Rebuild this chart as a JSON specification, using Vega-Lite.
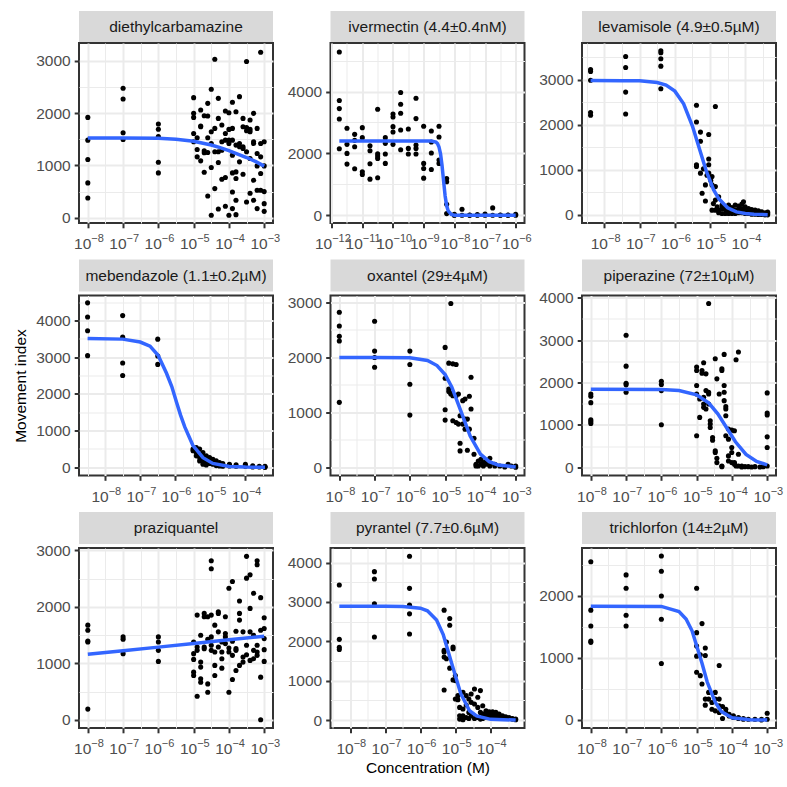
{
"$schema": "https://vega.github.io/schema/vega-lite/v6.json",
"padding": {"left": 12, "top": 11, "right": 5, "bottom": 5},
"background": "white",
"config": {
  "font": "Liberation Sans",
  "view": {"stroke": "#333333", "strokeWidth": 2},
  "axis": {"domain": false, "labelFontSize": 15.5, "labelColor": "#4D4D4D", "tickColor": "#333333", "tickWidth": 2, "tickSize": 4.8, "gridColor": "#EBEBEB", "titleFontSize": 15.5, "titleFontWeight": "normal", "titleColor": "#000000", "labelPadding": 4, "labelFlush": false, "labelOverlap": false, "labelBound": false},
  "text": {"fontSize": 15.5, "color": "#1A1A1A"},
  "circle": {"size": 26}
},
"spacing": 5.5,
"datasets": {
"dec": [{"c":1e-8,"m":1917},{"c":1e-8,"m":1482},{"c":1e-8,"m":1112},{"c":1e-8,"m":665},{"c":1e-8,"m":377},{"c":1e-7,"m":2473},{"c":1e-7,"m":2268},{"c":1e-7,"m":1623},{"c":1e-7,"m":1495},{"c":1e-6,"m":1790},{"c":1e-6,"m":1690},{"c":1e-6,"m":1550},{"c":1e-6,"m":1060},{"c":1e-6,"m":856},{"c":1e-5,"m":2294},{"c":1e-5,"m":1994},{"c":1e-5,"m":1917},{"c":1e-5,"m":1610},{"c":1e-5,"m":1451},{"c":1.259e-5,"m":1527},{"c":1.259e-5,"m":1304},{"c":1.259e-5,"m":1163},{"c":1.585e-5,"m":2058},{"c":1.585e-5,"m":1751},{"c":1.585e-5,"m":1738},{"c":1.585e-5,"m":1086},{"c":1.995e-5,"m":1949},{"c":1.995e-5,"m":1278},{"c":1.995e-5,"m":1240},{"c":1.995e-5,"m":869},{"c":2.512e-5,"m":2185},{"c":2.512e-5,"m":1943},{"c":2.512e-5,"m":1527},{"c":2.512e-5,"m":1246},{"c":2.512e-5,"m":415},{"c":3.162e-5,"m":2454},{"c":3.162e-5,"m":1642},{"c":3.162e-5,"m":1419},{"c":3.162e-5,"m":959},{"c":3.162e-5,"m":45},{"c":3.981e-5,"m":3029},{"c":3.981e-5,"m":1706},{"c":3.981e-5,"m":1259},{"c":3.981e-5,"m":556},{"c":5.012e-5,"m":2281},{"c":5.012e-5,"m":1898},{"c":5.012e-5,"m":1259},{"c":5.012e-5,"m":1054},{"c":5.012e-5,"m":166},{"c":6.31e-5,"m":1770},{"c":6.31e-5,"m":1451},{"c":6.31e-5,"m":1291},{"c":6.31e-5,"m":735},{"c":7.943e-5,"m":2038},{"c":7.943e-5,"m":1610},{"c":7.943e-5,"m":1482},{"c":7.943e-5,"m":767},{"c":7.943e-5,"m":217},{"c":1e-4,"m":2006},{"c":1e-4,"m":1687},{"c":1e-4,"m":1482},{"c":1e-4,"m":1419},{"c":1e-4,"m":45},{"c":1.259e-4,"m":2205},{"c":1.259e-4,"m":1706},{"c":1.259e-4,"m":1482},{"c":1.259e-4,"m":1195},{"c":1.259e-4,"m":856},{"c":1.259e-4,"m":492},{"c":1.259e-4,"m":173},{"c":1.585e-4,"m":2026},{"c":1.585e-4,"m":1387},{"c":1.585e-4,"m":875},{"c":1.585e-4,"m":748},{"c":1.585e-4,"m":332},{"c":1.585e-4,"m":58},{"c":1.995e-4,"m":2313},{"c":1.995e-4,"m":1419},{"c":1.995e-4,"m":1355},{"c":1.995e-4,"m":1067},{"c":2.512e-4,"m":1898},{"c":2.512e-4,"m":1738},{"c":2.512e-4,"m":1355},{"c":2.512e-4,"m":1323},{"c":2.512e-4,"m":831},{"c":3.162e-4,"m":2984},{"c":3.162e-4,"m":1725},{"c":3.162e-4,"m":1661},{"c":3.162e-4,"m":1259},{"c":3.162e-4,"m":300},{"c":3.981e-4,"m":1866},{"c":3.981e-4,"m":1687},{"c":3.981e-4,"m":1642},{"c":3.981e-4,"m":1131},{"c":3.981e-4,"m":466},{"c":5.012e-4,"m":1994},{"c":5.012e-4,"m":1451},{"c":5.012e-4,"m":1419},{"c":5.012e-4,"m":716},{"c":5.012e-4,"m":332},{"c":6.31e-4,"m":1706},{"c":6.31e-4,"m":1227},{"c":6.31e-4,"m":990},{"c":6.31e-4,"m":524},{"c":6.31e-4,"m":173},{"c":7.943e-4,"m":3163},{"c":7.943e-4,"m":1419},{"c":7.943e-4,"m":1163},{"c":7.943e-4,"m":843},{"c":7.943e-4,"m":524},{"c":1e-3,"m":1451},{"c":1e-3,"m":990},{"c":1e-3,"m":498},{"c":1e-3,"m":268},{"c":1e-3,"m":121}],
"dec_fit": [{"c":1e-8,"m":1525},{"c":1e-7,"m":1524},{"c":1e-6,"m":1518},{"c":3.162e-6,"m":1500},{"c":1e-5,"m":1462},{"c":3.162e-5,"m":1390},{"c":5.623e-5,"m":1340},{"c":1e-4,"m":1280},{"c":1.778e-4,"m":1215},{"c":3.162e-4,"m":1150},{"c":5.623e-4,"m":1075},{"c":1e-3,"m":985}],
"ivm": [{"c":1.778e-12,"m":5275},{"c":1.778e-12,"m":3708},{"c":1.778e-12,"m":3448},{"c":1.778e-12,"m":3113},{"c":1.778e-12,"m":2151},{"c":3.162e-12,"m":2811},{"c":3.162e-12,"m":2292},{"c":3.162e-12,"m":2000},{"c":3.162e-12,"m":1654},{"c":5.623e-12,"m":2616},{"c":5.623e-12,"m":2422},{"c":5.623e-12,"m":2216},{"c":5.623e-12,"m":1503},{"c":1e-11,"m":2832},{"c":1e-11,"m":2508},{"c":1e-11,"m":1405},{"c":1e-11,"m":1319},{"c":1.778e-11,"m":2249},{"c":1.778e-11,"m":2086},{"c":1.778e-11,"m":1665},{"c":1.778e-11,"m":1168},{"c":3.162e-11,"m":3427},{"c":3.162e-11,"m":1989},{"c":3.162e-11,"m":1913},{"c":3.162e-11,"m":1838},{"c":3.162e-11,"m":1211},{"c":5.623e-11,"m":2508},{"c":5.623e-11,"m":2324},{"c":5.623e-11,"m":1978},{"c":5.623e-11,"m":1676},{"c":1e-10,"m":3275},{"c":1e-10,"m":3178},{"c":1e-10,"m":2865},{"c":1e-10,"m":2692},{"c":1e-10,"m":2292},{"c":1.778e-10,"m":3967},{"c":1.778e-10,"m":3589},{"c":1.778e-10,"m":3297},{"c":1.778e-10,"m":2757},{"c":1.778e-10,"m":2119},{"c":3.162e-10,"m":2789},{"c":3.162e-10,"m":2162},{"c":3.162e-10,"m":1978},{"c":5.623e-10,"m":3784},{"c":5.623e-10,"m":3124},{"c":5.623e-10,"m":2270},{"c":5.623e-10,"m":2162},{"c":5.623e-10,"m":1978},{"c":1e-9,"m":2876},{"c":1e-9,"m":1676},{"c":1e-9,"m":1513},{"c":1e-9,"m":1200},{"c":1.778e-9,"m":2724},{"c":1.778e-9,"m":2367},{"c":1.778e-9,"m":2011},{"c":1.778e-9,"m":1481},{"c":3.162e-9,"m":2876},{"c":3.162e-9,"m":2530},{"c":3.162e-9,"m":1784},{"c":3.162e-9,"m":1676},{"c":5.623e-9,"m":1189},{"c":5.623e-9,"m":1081},{"c":5.623e-9,"m":357},{"c":5.623e-9,"m":54},{"c":1e-8,"m":0},{"c":1e-8,"m":32},{"c":1e-8,"m":10},{"c":1.778e-8,"m":195},{"c":1.778e-8,"m":0},{"c":3.162e-8,"m":0},{"c":3.162e-8,"m":5},{"c":5.623e-8,"m":20},{"c":5.623e-8,"m":0},{"c":1e-7,"m":40},{"c":1e-7,"m":0},{"c":1.778e-7,"m":238},{"c":1.778e-7,"m":0},{"c":3.162e-7,"m":0},{"c":3.162e-7,"m":10},{"c":5.623e-7,"m":0},{"c":5.623e-7,"m":5},{"c":1e-6,"m":0},{"c":1e-6,"m":30}],
"ivm_fit": [{"c":1.778e-12,"m":2400},{"c":1e-10,"m":2400},{"c":1e-9,"m":2399},{"c":1.778e-9,"m":2397},{"c":2.512e-9,"m":2364},{"c":2.818e-9,"m":2317},{"c":3.162e-9,"m":2208},{"c":3.548e-9,"m":1988},{"c":3.981e-9,"m":1603},{"c":4.365e-9,"m":1200},{"c":5.012e-9,"m":622},{"c":5.623e-9,"m":305},{"c":6.31e-9,"m":138},{"c":7.943e-9,"m":25},{"c":1e-8,"m":4},{"c":1.778e-8,"m":0},{"c":1e-6,"m":0}],
"lev": [{"c":4.03e-9,"m":3224},{"c":4.03e-9,"m":3179},{"c":4.03e-9,"m":2985},{"c":4.03e-9,"m":2269},{"c":4.03e-9,"m":2209},{"c":4e-8,"m":3515},{"c":4e-8,"m":3269},{"c":4e-8,"m":2724},{"c":4e-8,"m":2239},{"c":4e-7,"m":3642},{"c":4e-7,"m":3597},{"c":4e-7,"m":3463},{"c":4e-7,"m":3299},{"c":4e-7,"m":2799},{"c":4.12e-6,"m":2433},{"c":4.12e-6,"m":2060},{"c":4.12e-6,"m":1112},{"c":4.12e-6,"m":1075},{"c":5.35e-6,"m":1836},{"c":5.35e-6,"m":1634},{"c":5.35e-6,"m":925},{"c":5.96e-6,"m":478},{"c":6.5e-6,"m":1020},{"c":7.4e-6,"m":306},{"c":7.4e-6,"m":664},{"c":8.2e-6,"m":880},{"c":9.18e-6,"m":1784},{"c":9.18e-6,"m":1239},{"c":9.18e-6,"m":1112},{"c":9.18e-6,"m":925},{"c":1.05e-5,"m":760},{"c":1.14e-5,"m":851},{"c":1.14e-5,"m":664},{"c":1.14e-5,"m":104},{"c":1.25e-5,"m":250},{"c":1.42e-5,"m":2403},{"c":1.42e-5,"m":627},{"c":1.42e-5,"m":328},{"c":1.42e-5,"m":104},{"c":1.6e-5,"m":180},{"c":1.76e-5,"m":403},{"c":1.76e-5,"m":104},{"c":1.76e-5,"m":45},{"c":2.19e-5,"m":216},{"c":2.19e-5,"m":142},{"c":2.19e-5,"m":30},{"c":2.72e-5,"m":179},{"c":2.72e-5,"m":119},{"c":2.72e-5,"m":30},{"c":3.37e-5,"m":216},{"c":3.37e-5,"m":104},{"c":3.37e-5,"m":30},{"c":4.19e-5,"m":164},{"c":4.19e-5,"m":142},{"c":4.19e-5,"m":30},{"c":5.2e-5,"m":216},{"c":5.2e-5,"m":104},{"c":5.2e-5,"m":30},{"c":6.46e-5,"m":194},{"c":6.46e-5,"m":119},{"c":6.46e-5,"m":45},{"c":8.02e-5,"m":239},{"c":8.02e-5,"m":142},{"c":8.02e-5,"m":45},{"c":8.93e-5,"m":291},{"c":9.96e-5,"m":179},{"c":9.96e-5,"m":90},{"c":9.96e-5,"m":30},{"c":1.24e-4,"m":142},{"c":1.24e-4,"m":67},{"c":1.24e-4,"m":30},{"c":1.53e-4,"m":119},{"c":1.53e-4,"m":45},{"c":1.53e-4,"m":15},{"c":1.91e-4,"m":104},{"c":1.91e-4,"m":45},{"c":1.91e-4,"m":15},{"c":2.37e-4,"m":90},{"c":2.37e-4,"m":30},{"c":2.37e-4,"m":7},{"c":2.94e-4,"m":67},{"c":2.94e-4,"m":30},{"c":2.94e-4,"m":7},{"c":3.66e-4,"m":45},{"c":3.66e-4,"m":22},{"c":3.66e-4,"m":0},{"c":4.35e-4,"m":60},{"c":4.35e-4,"m":30},{"c":4.35e-4,"m":0}],
"lev_fit": [{"c":4.03e-9,"m":2980},{"c":3.162e-8,"m":2976},{"c":1e-7,"m":2973},{"c":3.162e-7,"m":2937},{"c":5.623e-7,"m":2880},{"c":1e-6,"m":2745},{"c":1.778e-6,"m":2465},{"c":3.162e-6,"m":1970},{"c":4.9e-6,"m":1490},{"c":7.943e-6,"m":957},{"c":1.259e-5,"m":559},{"c":1.778e-5,"m":355},{"c":3.162e-5,"m":157},{"c":5.623e-5,"m":66},{"c":1e-4,"m":28},{"c":1.778e-4,"m":12},{"c":4.35e-4,"m":3}],
"meb": [{"c":3.162e-9,"m":4478},{"c":3.162e-9,"m":4094},{"c":3.162e-9,"m":3718},{"c":3.162e-9,"m":3040},{"c":3.162e-8,"m":4130},{"c":3.162e-8,"m":3544},{"c":3.162e-8,"m":2839},{"c":3.162e-8,"m":2500},{"c":3.162e-7,"m":3489},{"c":3.162e-7,"m":3031},{"c":3.162e-7,"m":2802},{"c":3.2e-6,"m":495},{"c":3.2e-6,"m":449},{"c":3.97e-6,"m":540},{"c":3.97e-6,"m":403},{"c":3.97e-6,"m":311},{"c":4.94e-6,"m":495},{"c":4.94e-6,"m":357},{"c":4.94e-6,"m":266},{"c":4.94e-6,"m":174},{"c":6.14e-6,"m":403},{"c":6.14e-6,"m":311},{"c":6.14e-6,"m":174},{"c":6.14e-6,"m":82},{"c":7.63e-6,"m":311},{"c":7.63e-6,"m":220},{"c":7.63e-6,"m":128},{"c":7.63e-6,"m":64},{"c":9.48e-6,"m":266},{"c":9.48e-6,"m":174},{"c":9.48e-6,"m":101},{"c":1.18e-5,"m":220},{"c":1.18e-5,"m":147},{"c":1.18e-5,"m":82},{"c":1.47e-5,"m":174},{"c":1.47e-5,"m":101},{"c":1.47e-5,"m":46},{"c":1.82e-5,"m":128},{"c":1.82e-5,"m":73},{"c":1.82e-5,"m":37},{"c":2.26e-5,"m":101},{"c":2.26e-5,"m":55},{"c":2.26e-5,"m":27},{"c":3.5e-5,"m":82},{"c":3.5e-5,"m":37},{"c":5.41e-5,"m":64},{"c":5.41e-5,"m":27},{"c":9.95e-5,"m":82},{"c":9.95e-5,"m":27},{"c":1.61e-4,"m":37},{"c":1.61e-4,"m":9},{"c":2.48e-4,"m":27},{"c":2.48e-4,"m":9},{"c":3.6e-4,"m":27},{"c":3.6e-4,"m":0},{"c":3.6e-4,"m":5}],
"meb_fit": [{"c":3.162e-9,"m":3508},{"c":3.162e-8,"m":3490},{"c":1e-7,"m":3410},{"c":1.905e-7,"m":3300},{"c":3.236e-7,"m":3050},{"c":5.623e-7,"m":2560},{"c":7.943e-7,"m":2200},{"c":1.096e-6,"m":1755},{"c":1.413e-6,"m":1420},{"c":1.862e-6,"m":1100},{"c":3.162e-6,"m":600},{"c":6.166e-6,"m":260},{"c":1.175e-5,"m":105},{"c":3.467e-5,"m":22},{"c":1e-4,"m":5},{"c":3.6e-4,"m":1}],
"oxa": [{"c":1e-8,"m":2823},{"c":1e-8,"m":2573},{"c":1e-8,"m":2384},{"c":1e-8,"m":2299},{"c":1e-8,"m":1183},{"c":1e-7,"m":2659},{"c":1e-7,"m":2116},{"c":1e-7,"m":2000},{"c":1e-7,"m":1823},{"c":1e-6,"m":2116},{"c":1e-6,"m":1872},{"c":1e-6,"m":1512},{"c":1e-6,"m":951},{"c":1e-5,"m":2183},{"c":1e-5,"m":1622},{"c":1e-5,"m":1049},{"c":1e-5,"m":860},{"c":1.27e-5,"m":1896},{"c":1.27e-5,"m":1427},{"c":1.27e-5,"m":1378},{"c":1.45e-5,"m":2982},{"c":1.45e-5,"m":1354},{"c":1.45e-5,"m":1335},{"c":1.65e-5,"m":1884},{"c":1.65e-5,"m":1305},{"c":1.65e-5,"m":848},{"c":2.05e-5,"m":1872},{"c":2.05e-5,"m":1305},{"c":2.05e-5,"m":817},{"c":2.38e-5,"m":787},{"c":2.38e-5,"m":1335},{"c":2.65e-5,"m":939},{"c":2.65e-5,"m":439},{"c":2.65e-5,"m":299},{"c":3.15e-5,"m":1214},{"c":3.15e-5,"m":787},{"c":3.67e-5,"m":1244},{"c":3.67e-5,"m":695},{"c":3.67e-5,"m":878},{"c":4.27e-5,"m":878},{"c":4.27e-5,"m":311},{"c":4.86e-5,"m":1293},{"c":4.86e-5,"m":695},{"c":5.42e-5,"m":1640},{"c":5.42e-5,"m":1061},{"c":6.58e-5,"m":530},{"c":6.58e-5,"m":238},{"c":7.48e-5,"m":55},{"c":7.48e-5,"m":24},{"c":8.71e-5,"m":24},{"c":8.71e-5,"m":116},{"c":1.04e-4,"m":146},{"c":1.04e-4,"m":55},{"c":1.21e-4,"m":24},{"c":1.21e-4,"m":85},{"c":1.49e-4,"m":55},{"c":1.49e-4,"m":116},{"c":1.85e-4,"m":165},{"c":1.85e-4,"m":55},{"c":1.85e-4,"m":24},{"c":2.56e-4,"m":55},{"c":2.56e-4,"m":24},{"c":3.55e-4,"m":24},{"c":4.9e-4,"m":6},{"c":6.08e-4,"m":55},{"c":7.55e-4,"m":24},{"c":1e-3,"m":24},{"c":1e-3,"m":0}],
"oxa_fit": [{"c":1e-8,"m":2000},{"c":1e-7,"m":2000},{"c":1e-6,"m":1995},{"c":3.162e-6,"m":1944},{"c":5.888e-6,"m":1853},{"c":1e-5,"m":1689},{"c":1.549e-5,"m":1460},{"c":2.884e-5,"m":1000},{"c":5.129e-5,"m":570},{"c":1e-4,"m":241},{"c":1.778e-4,"m":103},{"c":3.162e-4,"m":43},{"c":1e-3,"m":7}],
"pip": [{"c":1e-8,"m":1731},{"c":1e-8,"m":1676},{"c":1e-8,"m":1526},{"c":1e-8,"m":1123},{"c":1e-8,"m":1083},{"c":1e-8,"m":1036},{"c":1e-7,"m":3115},{"c":1e-7,"m":2387},{"c":1e-7,"m":1984},{"c":1e-7,"m":1945},{"c":1e-7,"m":1771},{"c":1e-6,"m":2032},{"c":1e-6,"m":1953},{"c":1e-6,"m":1810},{"c":1e-6,"m":1004},{"c":1e-5,"m":2364},{"c":1e-5,"m":2285},{"c":1e-5,"m":1929},{"c":1e-5,"m":1731},{"c":1e-5,"m":743},{"c":1.22e-5,"m":1613},{"c":1.22e-5,"m":1178},{"c":1.42e-5,"m":2285},{"c":1.42e-5,"m":2221},{"c":1.58e-5,"m":2466},{"c":1.58e-5,"m":1652},{"c":1.58e-5,"m":1494},{"c":1.58e-5,"m":1415},{"c":1.84e-5,"m":2205},{"c":1.84e-5,"m":1810},{"c":1.84e-5,"m":1375},{"c":2.19e-5,"m":3866},{"c":2.19e-5,"m":1771},{"c":2.19e-5,"m":1731},{"c":2.19e-5,"m":1494},{"c":2.43e-5,"m":1099},{"c":2.43e-5,"m":1020},{"c":2.43e-5,"m":941},{"c":2.83e-5,"m":704},{"c":2.83e-5,"m":640},{"c":3.37e-5,"m":2561},{"c":3.37e-5,"m":387},{"c":3.37e-5,"m":348},{"c":3.75e-5,"m":2087},{"c":3.75e-5,"m":213},{"c":3.75e-5,"m":111},{"c":4.36e-5,"m":1731},{"c":5.19e-5,"m":2324},{"c":5.19e-5,"m":2285},{"c":5.19e-5,"m":32},{"c":5.19e-5,"m":16},{"c":6.03e-5,"m":2664},{"c":6.03e-5,"m":1929},{"c":6.03e-5,"m":1771},{"c":6.03e-5,"m":1573},{"c":6.72e-5,"m":1375},{"c":6.72e-5,"m":1431},{"c":6.72e-5,"m":1217},{"c":6.72e-5,"m":743},{"c":7.98e-5,"m":901},{"c":7.98e-5,"m":664},{"c":7.98e-5,"m":269},{"c":7.98e-5,"m":150},{"c":9.9e-5,"m":877},{"c":9.9e-5,"m":466},{"c":9.9e-5,"m":348},{"c":9.9e-5,"m":111},{"c":1.18e-4,"m":862},{"c":1.18e-4,"m":111},{"c":1.18e-4,"m":71},{"c":1.31e-4,"m":2537},{"c":1.31e-4,"m":32},{"c":1.53e-4,"m":2719},{"c":1.53e-4,"m":308},{"c":1.53e-4,"m":32},{"c":1.9e-4,"m":32},{"c":1.9e-4,"m":8},{"c":2.35e-4,"m":16},{"c":2.92e-4,"m":16},{"c":3.62e-4,"m":8},{"c":4.5e-4,"m":16},{"c":6.22e-4,"m":8},{"c":7.71e-4,"m":16},{"c":1e-3,"m":1755},{"c":1e-3,"m":1281},{"c":1e-3,"m":1233},{"c":1e-3,"m":719},{"c":1e-3,"m":466},{"c":1e-3,"m":32}],
"pip_fit": [{"c":1e-8,"m":1842},{"c":1e-6,"m":1838},{"c":3.162e-6,"m":1810},{"c":1e-5,"m":1710},{"c":2.188e-5,"m":1520},{"c":3.981e-5,"m":1260},{"c":7.244e-5,"m":921},{"c":1.259e-4,"m":603},{"c":2.512e-4,"m":305},{"c":5.012e-4,"m":137},{"c":1e-3,"m":59}],
"prz": [{"c":1e-8,"m":1676},{"c":1e-8,"m":1587},{"c":1e-8,"m":1396},{"c":1e-8,"m":1379},{"c":1e-8,"m":190},{"c":1e-7,"m":1468},{"c":1e-7,"m":1426},{"c":1e-7,"m":1171},{"c":1e-6,"m":1468},{"c":1e-6,"m":1379},{"c":1e-6,"m":1230},{"c":1e-6,"m":1034},{"c":1e-5,"m":1379},{"c":1e-5,"m":1171},{"c":1e-5,"m":1070},{"c":1e-5,"m":844},{"c":1e-5,"m":784},{"c":1.259e-5,"m":1854},{"c":1.259e-5,"m":1289},{"c":1.259e-5,"m":1230},{"c":1.259e-5,"m":416},{"c":1.585e-5,"m":1497},{"c":1.585e-5,"m":1022},{"c":1.585e-5,"m":933},{"c":1.585e-5,"m":725},{"c":1.585e-5,"m":666},{"c":1.995e-5,"m":1884},{"c":1.995e-5,"m":1824},{"c":1.995e-5,"m":1289},{"c":1.995e-5,"m":1260},{"c":2.512e-5,"m":1824},{"c":2.512e-5,"m":1426},{"c":2.512e-5,"m":636},{"c":2.512e-5,"m":487},{"c":3.162e-5,"m":2817},{"c":3.162e-5,"m":2674},{"c":3.162e-5,"m":1854},{"c":3.162e-5,"m":1468},{"c":3.162e-5,"m":1319},{"c":3.162e-5,"m":1230},{"c":3.981e-5,"m":1676},{"c":3.981e-5,"m":1200},{"c":3.981e-5,"m":963},{"c":3.981e-5,"m":784},{"c":5.012e-5,"m":1913},{"c":5.012e-5,"m":1884},{"c":5.012e-5,"m":1557},{"c":5.012e-5,"m":1289},{"c":6.31e-5,"m":1379},{"c":6.31e-5,"m":1200},{"c":6.31e-5,"m":1081},{"c":6.31e-5,"m":915},{"c":7.943e-5,"m":1824},{"c":7.943e-5,"m":1527},{"c":7.943e-5,"m":1468},{"c":7.943e-5,"m":1349},{"c":1e-4,"m":2329},{"c":1e-4,"m":1271},{"c":1e-4,"m":1200},{"c":1e-4,"m":487},{"c":1.259e-4,"m":2448},{"c":1.259e-4,"m":1390},{"c":1.259e-4,"m":1141},{"c":1.259e-4,"m":713},{"c":1.585e-4,"m":1569},{"c":1.585e-4,"m":1260},{"c":1.585e-4,"m":1230},{"c":1.585e-4,"m":873},{"c":1.995e-4,"m":2103},{"c":1.995e-4,"m":1884},{"c":1.995e-4,"m":1765},{"c":1.995e-4,"m":963},{"c":2.512e-4,"m":1557},{"c":2.512e-4,"m":1022},{"c":2.512e-4,"m":1111},{"c":3.162e-4,"m":2894},{"c":3.162e-4,"m":2508},{"c":3.162e-4,"m":1319},{"c":3.162e-4,"m":1152},{"c":3.981e-4,"m":2567},{"c":3.981e-4,"m":1973},{"c":3.981e-4,"m":1557},{"c":3.981e-4,"m":1052},{"c":5.012e-4,"m":2240},{"c":5.012e-4,"m":1497},{"c":5.012e-4,"m":1230},{"c":5.012e-4,"m":1081},{"c":6.31e-4,"m":2817},{"c":6.31e-4,"m":2745},{"c":6.31e-4,"m":1319},{"c":6.31e-4,"m":1200},{"c":6.31e-4,"m":1141},{"c":7.943e-4,"m":2163},{"c":7.943e-4,"m":1587},{"c":7.943e-4,"m":755},{"c":7.943e-4,"m":0},{"c":1e-3,"m":1806},{"c":1e-3,"m":1616},{"c":1e-3,"m":1438},{"c":1e-3,"m":1242},{"c":1e-3,"m":1034}],
"prz_fit": [{"c":1e-8,"m":1159},{"c":1e-7,"m":1223},{"c":1e-6,"m":1287},{"c":1e-5,"m":1352},{"c":1e-4,"m":1416},{"c":1e-3,"m":1480}],
"pyr": [{"c":4.9e-9,"m":3430},{"c":4.9e-9,"m":2051},{"c":4.9e-9,"m":1847},{"c":4.9e-9,"m":1796},{"c":4.9e-8,"m":3770},{"c":4.9e-8,"m":3583},{"c":4.9e-8,"m":2953},{"c":4.9e-8,"m":2111},{"c":4.9e-7,"m":4162},{"c":4.9e-7,"m":3345},{"c":4.9e-7,"m":2919},{"c":4.9e-7,"m":2698},{"c":4.9e-7,"m":2187},{"c":4.74e-6,"m":2792},{"c":4.74e-6,"m":1770},{"c":4.74e-6,"m":1728},{"c":4.74e-6,"m":1600},{"c":4.74e-6,"m":766},{"c":5.52e-6,"m":1983},{"c":5.52e-6,"m":1558},{"c":6.85e-6,"m":2579},{"c":6.85e-6,"m":2409},{"c":6.85e-6,"m":1319},{"c":8.51e-6,"m":1855},{"c":8.51e-6,"m":1813},{"c":8.51e-6,"m":1021},{"c":9.89e-6,"m":1132},{"c":9.89e-6,"m":1004},{"c":9.89e-6,"m":536},{"c":1.17e-5,"m":621},{"c":1.17e-5,"m":519},{"c":1.31e-5,"m":323},{"c":1.31e-5,"m":111},{"c":1.31e-5,"m":26},{"c":1.63e-5,"m":706},{"c":1.63e-5,"m":281},{"c":1.63e-5,"m":111},{"c":1.63e-5,"m":9},{"c":2.02e-5,"m":621},{"c":2.02e-5,"m":383},{"c":2.02e-5,"m":68},{"c":2.4e-5,"m":536},{"c":2.4e-5,"m":196},{"c":2.4e-5,"m":43},{"c":2.79e-5,"m":664},{"c":2.79e-5,"m":451},{"c":2.79e-5,"m":111},{"c":3.47e-5,"m":792},{"c":3.47e-5,"m":409},{"c":3.47e-5,"m":43},{"c":4.31e-5,"m":579},{"c":4.31e-5,"m":323},{"c":4.31e-5,"m":68},{"c":5.12e-5,"m":749},{"c":5.12e-5,"m":196},{"c":5.12e-5,"m":26},{"c":5.96e-5,"m":366},{"c":5.96e-5,"m":153},{"c":5.96e-5,"m":43},{"c":7.39e-5,"m":238},{"c":7.39e-5,"m":196},{"c":7.39e-5,"m":153},{"c":7.39e-5,"m":68},{"c":9.17e-5,"m":213},{"c":9.17e-5,"m":179},{"c":9.17e-5,"m":111},{"c":1.14e-4,"m":213},{"c":1.14e-4,"m":153},{"c":1.14e-4,"m":68},{"c":1.41e-4,"m":196},{"c":1.41e-4,"m":111},{"c":1.41e-4,"m":43},{"c":1.75e-4,"m":153},{"c":1.75e-4,"m":94},{"c":2.18e-4,"m":111},{"c":2.18e-4,"m":68},{"c":2.7e-4,"m":85},{"c":2.7e-4,"m":43},{"c":3.36e-4,"m":68},{"c":3.36e-4,"m":43},{"c":4.17e-4,"m":43},{"c":4.17e-4,"m":26},{"c":5.18e-4,"m":26},{"c":5.18e-4,"m":9}],
"pyr_fit": [{"c":4.9e-9,"m":2890},{"c":1e-7,"m":2888},{"c":3.162e-7,"m":2885},{"c":1e-6,"m":2843},{"c":1.585e-6,"m":2774},{"c":2.884e-6,"m":2540},{"c":4.467e-6,"m":2173},{"c":7.762e-6,"m":1445},{"c":1.413e-5,"m":671},{"c":2.512e-5,"m":238},{"c":3.981e-5,"m":107},{"c":1e-4,"m":20},{"c":5.18e-4,"m":1}],
"tri": [{"c":1e-8,"m":2546},{"c":1e-8,"m":1767},{"c":1e-8,"m":1513},{"c":1e-8,"m":1270},{"c":1e-8,"m":1249},{"c":1e-7,"m":2335},{"c":1e-7,"m":2119},{"c":1e-7,"m":1686},{"c":1e-7,"m":1513},{"c":1e-6,"m":2638},{"c":1e-6,"m":2394},{"c":1e-6,"m":1994},{"c":1e-6,"m":1622},{"c":1e-6,"m":908},{"c":1e-5,"m":2119},{"c":1e-5,"m":1405},{"c":1e-5,"m":1189},{"c":1e-5,"m":1027},{"c":1e-5,"m":767},{"c":1.27e-5,"m":1049},{"c":1.27e-5,"m":713},{"c":1.42e-5,"m":1551},{"c":1.42e-5,"m":578},{"c":1.76e-5,"m":1157},{"c":1.76e-5,"m":1038},{"c":1.76e-5,"m":335},{"c":1.76e-5,"m":238},{"c":2.19e-5,"m":443},{"c":2.19e-5,"m":335},{"c":2.71e-5,"m":281},{"c":2.71e-5,"m":173},{"c":3.37e-5,"m":443},{"c":3.37e-5,"m":335},{"c":3.37e-5,"m":146},{"c":4.36e-5,"m":876},{"c":4.36e-5,"m":335},{"c":4.36e-5,"m":227},{"c":4.36e-5,"m":119},{"c":5.42e-5,"m":216},{"c":5.42e-5,"m":22},{"c":6.72e-5,"m":173},{"c":6.72e-5,"m":119},{"c":8.34e-5,"m":92},{"c":8.34e-5,"m":65},{"c":1.1e-4,"m":65},{"c":1.1e-4,"m":38},{"c":1.53e-4,"m":38},{"c":1.53e-4,"m":22},{"c":2.11e-4,"m":22},{"c":2.11e-4,"m":11},{"c":2.92e-4,"m":11},{"c":4.5e-4,"m":11},{"c":6.93e-4,"m":11},{"c":6.93e-4,"m":0},{"c":1e-3,"m":108},{"c":1e-3,"m":11}],
"tri_fit": [{"c":1e-8,"m":1830},{"c":1e-6,"m":1828},{"c":3.162e-6,"m":1746},{"c":5.012e-6,"m":1625},{"c":7.413e-6,"m":1435},{"c":1.413e-5,"m":915},{"c":1.995e-5,"m":610},{"c":3.388e-5,"m":281},{"c":5.012e-5,"m":135},{"c":1e-4,"m":36},{"c":3.162e-4,"m":4},{"c":1e-3,"m":0}]
},
"vconcat": [
{"spacing": -2, "vconcat": [
 {"spacing": 57.5, "bounds": "flush", "hconcat": [
  {"data": {"values": [{"t": "diethylcarbamazine"}]}, "width": 194, "height": 32, "view": {"fill": "#D9D9D9"}, "mark": "text", "encoding": {"text": {"field": "t"}}},
  {"data": {"values": [{"t": "ivermectin (4.4±0.4nM)"}]}, "width": 194, "height": 32, "view": {"fill": "#D9D9D9"}, "mark": "text", "encoding": {"text": {"field": "t"}}},
  {"data": {"values": [{"t": "levamisole (4.9±0.5µM)"}]}, "width": 194, "height": 32, "view": {"fill": "#D9D9D9"}, "mark": "text", "encoding": {"text": {"field": "t"}}}
 ]},
 {"spacing": 57.5, "bounds": "flush", "hconcat": [
 {"width": 194, "height": 180, "resolve": {"axis": {"x": "independent"}},
  "encoding": {
   "y": {"field": "m", "type": "quantitative", "title": null, "scale": {"domain": [-102, 3339], "nice": false, "zero": false},
     "axis": {"values": [0,500,1000,1500,2000,2500,3000], "format": "d", "labelExpr": "datum.value % 1000 != 0 ? '' : datum.label",
       "tickOpacity": {"condition": {"test": "datum.value % 1000 != 0", "value": 0}, "value": 1},
       "gridWidth": {"condition": {"test": "datum.value % 1000 != 0", "value": 1}, "value": 2}}}
  },
  "layer": [
   {"data": {"name": "dec"}, "mark": {"type": "circle", "color": "black", "opacity": 1},
    "encoding": {"x": {"field": "c", "type": "quantitative", "title": null, "scale": {"type": "log", "domain": [5.623e-9, 1.778e-3], "nice": false},
     "axis": {"values": [1e-8,3.162e-8,1e-7,3.162e-7,1e-6,3.162e-6,1e-5,3.162e-5,1e-4,3.162e-4,1e-3], "labelAlign": "right", "labelPadding": 9, "labelOffset": 3,
       "labelExpr": "abs(log(datum.value)/LN10 - round(log(datum.value)/LN10)) > 0.1 ? '' : '10'",
       "tickOpacity": {"condition": {"test": "abs(log(datum.value)/LN10 - round(log(datum.value)/LN10)) > 0.1", "value": 0}, "value": 1},
       "gridWidth": {"condition": {"test": "abs(log(datum.value)/LN10 - round(log(datum.value)/LN10)) > 0.1", "value": 1}, "value": 2}}}}},
   {"data": {"name": "dec_fit"}, "mark": {"type": "line", "color": "#3366FF", "strokeWidth": 3.5},
    "encoding": {"x": {"field": "c", "type": "quantitative", "title": null, "scale": {"type": "log", "domain": [5.623e-9, 1.778e-3], "nice": false},
     "axis": {"orient": "bottom", "values": [1e-8,1e-7,1e-6,1e-5,1e-4,1e-3], "grid": false, "tickOpacity": 0, "labelAlign": "left", "labelPadding": 5, "labelFontSize": 11, "labelOffset": 3,
       "labelExpr": "'−' + format(round(-log(datum.value)/LN10), 'd')"}}}}
  ]},
 {"width": 194, "height": 180, "resolve": {"axis": {"x": "independent"}},
  "encoding": {
   "y": {"field": "m", "type": "quantitative", "title": null, "scale": {"domain": [-250, 5568], "nice": false, "zero": false},
     "axis": {"values": [0,1000,2000,3000,4000,5000], "format": "d", "labelExpr": "datum.value % 2000 != 0 ? '' : datum.label",
       "tickOpacity": {"condition": {"test": "datum.value % 2000 != 0", "value": 0}, "value": 1},
       "gridWidth": {"condition": {"test": "datum.value % 2000 != 0", "value": 1}, "value": 2}}}
  },
  "layer": [
   {"data": {"name": "ivm"}, "mark": {"type": "circle", "color": "black", "opacity": 1},
    "encoding": {"x": {"field": "c", "type": "quantitative", "title": null, "scale": {"type": "log", "domain": [9.17e-13, 1.939e-6], "nice": false},
     "axis": {"values": [1e-12,3.162e-12,1e-11,3.162e-11,1e-10,3.162e-10,1e-9,3.162e-9,1e-8,3.162e-8,1e-7,3.162e-7,1e-6], "labelAlign": "right", "labelPadding": 9,
       "labelOffset": {"condition": {"test": "datum.value < 1.5e-10", "value": 0}, "value": 3},
       "labelExpr": "abs(log(datum.value)/LN10 - round(log(datum.value)/LN10)) > 0.1 ? '' : '10'",
       "tickOpacity": {"condition": {"test": "abs(log(datum.value)/LN10 - round(log(datum.value)/LN10)) > 0.1", "value": 0}, "value": 1},
       "gridWidth": {"condition": {"test": "abs(log(datum.value)/LN10 - round(log(datum.value)/LN10)) > 0.1", "value": 1}, "value": 2}}}}},
   {"data": {"name": "ivm_fit"}, "mark": {"type": "line", "color": "#3366FF", "strokeWidth": 3.5},
    "encoding": {"x": {"field": "c", "type": "quantitative", "title": null, "scale": {"type": "log", "domain": [9.17e-13, 1.939e-6], "nice": false},
     "axis": {"orient": "bottom", "values": [1e-12,1e-11,1e-10,1e-9,1e-8,1e-7,1e-6], "grid": false, "tickOpacity": 0, "labelAlign": "left", "labelPadding": 5, "labelFontSize": 11,
       "labelOffset": {"condition": {"test": "datum.value < 1.5e-10", "value": 0}, "value": 3},
       "labelExpr": "'−' + format(round(-log(datum.value)/LN10), 'd')"}}}}
  ]},
 {"width": 194, "height": 180, "resolve": {"axis": {"x": "independent"}},
  "encoding": {
   "y": {"field": "m", "type": "quantitative", "title": null, "scale": {"domain": [-181, 3813], "nice": false, "zero": false},
     "axis": {"values": [0,500,1000,1500,2000,2500,3000,3500], "format": "d", "labelExpr": "datum.value % 1000 != 0 ? '' : datum.label",
       "tickOpacity": {"condition": {"test": "datum.value % 1000 != 0", "value": 0}, "value": 1},
       "gridWidth": {"condition": {"test": "datum.value % 1000 != 0", "value": 1}, "value": 2}}}
  },
  "layer": [
   {"data": {"name": "lev"}, "mark": {"type": "circle", "color": "black", "opacity": 1},
    "encoding": {"x": {"field": "c", "type": "quantitative", "title": null, "scale": {"type": "log", "domain": [2.3e-9, 7.5e-4], "nice": false},
     "axis": {"values": [3.162e-9,1e-8,3.162e-8,1e-7,3.162e-7,1e-6,3.162e-6,1e-5,3.162e-5,1e-4,3.162e-4], "labelAlign": "right", "labelPadding": 9, "labelOffset": 3,
       "labelExpr": "abs(log(datum.value)/LN10 - round(log(datum.value)/LN10)) > 0.1 ? '' : '10'",
       "tickOpacity": {"condition": {"test": "abs(log(datum.value)/LN10 - round(log(datum.value)/LN10)) > 0.1", "value": 0}, "value": 1},
       "gridWidth": {"condition": {"test": "abs(log(datum.value)/LN10 - round(log(datum.value)/LN10)) > 0.1", "value": 1}, "value": 2}}}}},
   {"data": {"name": "lev_fit"}, "mark": {"type": "line", "color": "#3366FF", "strokeWidth": 3.5},
    "encoding": {"x": {"field": "c", "type": "quantitative", "title": null, "scale": {"type": "log", "domain": [2.3e-9, 7.5e-4], "nice": false},
     "axis": {"orient": "bottom", "values": [1e-8,1e-7,1e-6,1e-5,1e-4], "grid": false, "tickOpacity": 0, "labelAlign": "left", "labelPadding": 5, "labelFontSize": 11, "labelOffset": 3,
       "labelExpr": "'−' + format(round(-log(datum.value)/LN10), 'd')"}}}}
  ]}
 ]}
]},
{"spacing": -2, "vconcat": [
 {"spacing": 57.5, "bounds": "flush", "hconcat": [
  {"data": {"values": [{"t": "mebendazole (1.1±0.2µM)"}]}, "width": 194, "height": 32, "view": {"fill": "#D9D9D9"}, "mark": "text", "encoding": {"text": {"field": "t"}}},
  {"data": {"values": [{"t": "oxantel (29±4µM)"}]}, "width": 194, "height": 32, "view": {"fill": "#D9D9D9"}, "mark": "text", "encoding": {"text": {"field": "t"}}},
  {"data": {"values": [{"t": "piperazine (72±10µM)"}]}, "width": 194, "height": 32, "view": {"fill": "#D9D9D9"}, "mark": "text", "encoding": {"text": {"field": "t"}}}
 ]},
 {"spacing": 57.5, "bounds": "flush", "hconcat": [
 {"width": 194, "height": 180, "resolve": {"axis": {"x": "independent"}},
  "encoding": {
   "y": {"field": "m", "type": "quantitative", "title": "Movement index", "scale": {"domain": [-224, 4678], "nice": false, "zero": false},
     "axis": {"values": [0,500,1000,1500,2000,2500,3000,3500,4000,4500], "format": "d", "titlePadding": 7, "labelExpr": "datum.value % 1000 != 0 ? '' : datum.label",
       "tickOpacity": {"condition": {"test": "datum.value % 1000 != 0", "value": 0}, "value": 1},
       "gridWidth": {"condition": {"test": "datum.value % 1000 != 0", "value": 1}, "value": 2}}}
  },
  "layer": [
   {"data": {"name": "meb"}, "mark": {"type": "circle", "color": "black", "opacity": 1},
    "encoding": {"x": {"field": "c", "type": "quantitative", "title": null, "scale": {"type": "log", "domain": [1.8e-9, 6.1e-4], "nice": false},
     "axis": {"values": [3.162e-9,1e-8,3.162e-8,1e-7,3.162e-7,1e-6,3.162e-6,1e-5,3.162e-5,1e-4,3.162e-4], "labelAlign": "right", "labelPadding": 9, "labelOffset": 3,
       "labelExpr": "abs(log(datum.value)/LN10 - round(log(datum.value)/LN10)) > 0.1 ? '' : '10'",
       "tickOpacity": {"condition": {"test": "abs(log(datum.value)/LN10 - round(log(datum.value)/LN10)) > 0.1", "value": 0}, "value": 1},
       "gridWidth": {"condition": {"test": "abs(log(datum.value)/LN10 - round(log(datum.value)/LN10)) > 0.1", "value": 1}, "value": 2}}}}},
   {"data": {"name": "meb_fit"}, "mark": {"type": "line", "color": "#3366FF", "strokeWidth": 3.5},
    "encoding": {"x": {"field": "c", "type": "quantitative", "title": null, "scale": {"type": "log", "domain": [1.8e-9, 6.1e-4], "nice": false},
     "axis": {"orient": "bottom", "values": [1e-8,1e-7,1e-6,1e-5,1e-4], "grid": false, "tickOpacity": 0, "labelAlign": "left", "labelPadding": 5, "labelFontSize": 11, "labelOffset": 3,
       "labelExpr": "'−' + format(round(-log(datum.value)/LN10), 'd')"}}}}
  ]},
 {"width": 194, "height": 180, "resolve": {"axis": {"x": "independent"}},
  "encoding": {
   "y": {"field": "m", "type": "quantitative", "title": null, "scale": {"domain": [-149, 3128], "nice": false, "zero": false},
     "axis": {"values": [0,500,1000,1500,2000,2500,3000], "format": "d", "labelExpr": "datum.value % 1000 != 0 ? '' : datum.label",
       "tickOpacity": {"condition": {"test": "datum.value % 1000 != 0", "value": 0}, "value": 1},
       "gridWidth": {"condition": {"test": "datum.value % 1000 != 0", "value": 1}, "value": 2}}}
  },
  "layer": [
   {"data": {"name": "oxa"}, "mark": {"type": "circle", "color": "black", "opacity": 1},
    "encoding": {"x": {"field": "c", "type": "quantitative", "title": null, "scale": {"type": "log", "domain": [5.623e-9, 1.778e-3], "nice": false},
     "axis": {"values": [1e-8,3.162e-8,1e-7,3.162e-7,1e-6,3.162e-6,1e-5,3.162e-5,1e-4,3.162e-4,1e-3], "labelAlign": "right", "labelPadding": 9, "labelOffset": 3,
       "labelExpr": "abs(log(datum.value)/LN10 - round(log(datum.value)/LN10)) > 0.1 ? '' : '10'",
       "tickOpacity": {"condition": {"test": "abs(log(datum.value)/LN10 - round(log(datum.value)/LN10)) > 0.1", "value": 0}, "value": 1},
       "gridWidth": {"condition": {"test": "abs(log(datum.value)/LN10 - round(log(datum.value)/LN10)) > 0.1", "value": 1}, "value": 2}}}}},
   {"data": {"name": "oxa_fit"}, "mark": {"type": "line", "color": "#3366FF", "strokeWidth": 3.5},
    "encoding": {"x": {"field": "c", "type": "quantitative", "title": null, "scale": {"type": "log", "domain": [5.623e-9, 1.778e-3], "nice": false},
     "axis": {"orient": "bottom", "values": [1e-8,1e-7,1e-6,1e-5,1e-4,1e-3], "grid": false, "tickOpacity": 0, "labelAlign": "left", "labelPadding": 5, "labelFontSize": 11, "labelOffset": 3,
       "labelExpr": "'−' + format(round(-log(datum.value)/LN10), 'd')"}}}}
  ]},
 {"width": 194, "height": 180, "resolve": {"axis": {"x": "independent"}},
  "encoding": {
   "y": {"field": "m", "type": "quantitative", "title": null, "scale": {"domain": [-193, 4053], "nice": false, "zero": false},
     "axis": {"values": [0,500,1000,1500,2000,2500,3000,3500,4000], "format": "d", "labelExpr": "datum.value % 1000 != 0 ? '' : datum.label",
       "tickOpacity": {"condition": {"test": "datum.value % 1000 != 0", "value": 0}, "value": 1},
       "gridWidth": {"condition": {"test": "datum.value % 1000 != 0", "value": 1}, "value": 2}}}
  },
  "layer": [
   {"data": {"name": "pip"}, "mark": {"type": "circle", "color": "black", "opacity": 1},
    "encoding": {"x": {"field": "c", "type": "quantitative", "title": null, "scale": {"type": "log", "domain": [5.623e-9, 1.778e-3], "nice": false},
     "axis": {"values": [1e-8,3.162e-8,1e-7,3.162e-7,1e-6,3.162e-6,1e-5,3.162e-5,1e-4,3.162e-4,1e-3], "labelAlign": "right", "labelPadding": 9, "labelOffset": 3,
       "labelExpr": "abs(log(datum.value)/LN10 - round(log(datum.value)/LN10)) > 0.1 ? '' : '10'",
       "tickOpacity": {"condition": {"test": "abs(log(datum.value)/LN10 - round(log(datum.value)/LN10)) > 0.1", "value": 0}, "value": 1},
       "gridWidth": {"condition": {"test": "abs(log(datum.value)/LN10 - round(log(datum.value)/LN10)) > 0.1", "value": 1}, "value": 2}}}}},
   {"data": {"name": "pip_fit"}, "mark": {"type": "line", "color": "#3366FF", "strokeWidth": 3.5},
    "encoding": {"x": {"field": "c", "type": "quantitative", "title": null, "scale": {"type": "log", "domain": [5.623e-9, 1.778e-3], "nice": false},
     "axis": {"orient": "bottom", "values": [1e-8,1e-7,1e-6,1e-5,1e-4,1e-3], "grid": false, "tickOpacity": 0, "labelAlign": "left", "labelPadding": 5, "labelFontSize": 11, "labelOffset": 3,
       "labelExpr": "'−' + format(round(-log(datum.value)/LN10), 'd')"}}}}
  ]}
 ]}
]},
{"spacing": -2, "vconcat": [
 {"spacing": 57.5, "bounds": "flush", "hconcat": [
  {"data": {"values": [{"t": "praziquantel"}]}, "width": 194, "height": 32, "view": {"fill": "#D9D9D9"}, "mark": "text", "encoding": {"text": {"field": "t"}}},
  {"data": {"values": [{"t": "pyrantel (7.7±0.6µM)"}]}, "width": 194, "height": 32, "view": {"fill": "#D9D9D9"}, "mark": "text", "encoding": {"text": {"field": "t"}}},
  {"data": {"values": [{"t": "trichlorfon (14±2µM)"}]}, "width": 194, "height": 32, "view": {"fill": "#D9D9D9"}, "mark": "text", "encoding": {"text": {"field": "t"}}}
 ]},
 {"spacing": 57.5, "bounds": "flush", "hconcat": [
 {"width": 194, "height": 180, "resolve": {"axis": {"x": "independent"}},
  "encoding": {
   "y": {"field": "m", "type": "quantitative", "title": null, "scale": {"domain": [-145, 3042], "nice": false, "zero": false},
     "axis": {"values": [0,500,1000,1500,2000,2500,3000], "format": "d", "labelExpr": "datum.value % 1000 != 0 ? '' : datum.label",
       "tickOpacity": {"condition": {"test": "datum.value % 1000 != 0", "value": 0}, "value": 1},
       "gridWidth": {"condition": {"test": "datum.value % 1000 != 0", "value": 1}, "value": 2}}}
  },
  "layer": [
   {"data": {"name": "prz"}, "mark": {"type": "circle", "color": "black", "opacity": 1},
    "encoding": {"x": {"field": "c", "type": "quantitative", "title": null, "scale": {"type": "log", "domain": [5.623e-9, 1.778e-3], "nice": false},
     "axis": {"values": [1e-8,3.162e-8,1e-7,3.162e-7,1e-6,3.162e-6,1e-5,3.162e-5,1e-4,3.162e-4,1e-3], "labelAlign": "right", "labelPadding": 9, "labelOffset": 3,
       "labelExpr": "abs(log(datum.value)/LN10 - round(log(datum.value)/LN10)) > 0.1 ? '' : '10'",
       "tickOpacity": {"condition": {"test": "abs(log(datum.value)/LN10 - round(log(datum.value)/LN10)) > 0.1", "value": 0}, "value": 1},
       "gridWidth": {"condition": {"test": "abs(log(datum.value)/LN10 - round(log(datum.value)/LN10)) > 0.1", "value": 1}, "value": 2}}}}},
   {"data": {"name": "prz_fit"}, "mark": {"type": "line", "color": "#3366FF", "strokeWidth": 3.5},
    "encoding": {"x": {"field": "c", "type": "quantitative", "title": null, "scale": {"type": "log", "domain": [5.623e-9, 1.778e-3], "nice": false},
     "axis": {"orient": "bottom", "values": [1e-8,1e-7,1e-6,1e-5,1e-4,1e-3], "grid": false, "tickOpacity": 0, "labelAlign": "left", "labelPadding": 5, "labelFontSize": 11, "labelOffset": 3,
       "labelExpr": "'−' + format(round(-log(datum.value)/LN10), 'd')"}}}}
  ]},
 {"width": 194, "height": 180, "resolve": {"axis": {"x": "independent"}},
  "encoding": {
   "y": {"field": "m", "type": "quantitative", "title": null, "scale": {"domain": [-200, 4370], "nice": false, "zero": false},
     "axis": {"values": [0,500,1000,1500,2000,2500,3000,3500,4000], "format": "d", "labelExpr": "datum.value % 1000 != 0 ? '' : datum.label",
       "tickOpacity": {"condition": {"test": "datum.value % 1000 != 0", "value": 0}, "value": 1},
       "gridWidth": {"condition": {"test": "datum.value % 1000 != 0", "value": 1}, "value": 2}}}
  },
  "layer": [
   {"data": {"name": "pyr"}, "mark": {"type": "circle", "color": "black", "opacity": 1},
    "encoding": {"x": {"field": "c", "type": "quantitative", "title": "Concentration (M)", "scale": {"type": "log", "domain": [2.75e-9, 9.23e-4], "nice": false},
     "axis": {"values": [3.162e-9,1e-8,3.162e-8,1e-7,3.162e-7,1e-6,3.162e-6,1e-5,3.162e-5,1e-4,3.162e-4], "labelAlign": "right", "labelPadding": 9, "labelOffset": 3, "titlePadding": 3,
       "labelExpr": "abs(log(datum.value)/LN10 - round(log(datum.value)/LN10)) > 0.1 ? '' : '10'",
       "tickOpacity": {"condition": {"test": "abs(log(datum.value)/LN10 - round(log(datum.value)/LN10)) > 0.1", "value": 0}, "value": 1},
       "gridWidth": {"condition": {"test": "abs(log(datum.value)/LN10 - round(log(datum.value)/LN10)) > 0.1", "value": 1}, "value": 2}}}}},
   {"data": {"name": "pyr_fit"}, "mark": {"type": "line", "color": "#3366FF", "strokeWidth": 3.5},
    "encoding": {"x": {"field": "c", "type": "quantitative", "title": null, "scale": {"type": "log", "domain": [2.75e-9, 9.23e-4], "nice": false},
     "axis": {"orient": "bottom", "values": [1e-8,1e-7,1e-6,1e-5,1e-4], "grid": false, "tickOpacity": 0, "labelAlign": "left", "labelPadding": 5, "labelFontSize": 11, "labelOffset": 3,
       "labelExpr": "'−' + format(round(-log(datum.value)/LN10), 'd')"}}}}
  ]},
 {"width": 194, "height": 180, "resolve": {"axis": {"x": "independent"}},
  "encoding": {
   "y": {"field": "m", "type": "quantitative", "title": null, "scale": {"domain": [-130, 2768], "nice": false, "zero": false},
     "axis": {"values": [0,500,1000,1500,2000,2500], "format": "d", "labelExpr": "datum.value % 1000 != 0 ? '' : datum.label",
       "tickOpacity": {"condition": {"test": "datum.value % 1000 != 0", "value": 0}, "value": 1},
       "gridWidth": {"condition": {"test": "datum.value % 1000 != 0", "value": 1}, "value": 2}}}
  },
  "layer": [
   {"data": {"name": "tri"}, "mark": {"type": "circle", "color": "black", "opacity": 1},
    "encoding": {"x": {"field": "c", "type": "quantitative", "title": null, "scale": {"type": "log", "domain": [5.623e-9, 1.778e-3], "nice": false},
     "axis": {"values": [1e-8,3.162e-8,1e-7,3.162e-7,1e-6,3.162e-6,1e-5,3.162e-5,1e-4,3.162e-4,1e-3], "labelAlign": "right", "labelPadding": 9, "labelOffset": 3,
       "labelExpr": "abs(log(datum.value)/LN10 - round(log(datum.value)/LN10)) > 0.1 ? '' : '10'",
       "tickOpacity": {"condition": {"test": "abs(log(datum.value)/LN10 - round(log(datum.value)/LN10)) > 0.1", "value": 0}, "value": 1},
       "gridWidth": {"condition": {"test": "abs(log(datum.value)/LN10 - round(log(datum.value)/LN10)) > 0.1", "value": 1}, "value": 2}}}}},
   {"data": {"name": "tri_fit"}, "mark": {"type": "line", "color": "#3366FF", "strokeWidth": 3.5},
    "encoding": {"x": {"field": "c", "type": "quantitative", "title": null, "scale": {"type": "log", "domain": [5.623e-9, 1.778e-3], "nice": false},
     "axis": {"orient": "bottom", "values": [1e-8,1e-7,1e-6,1e-5,1e-4,1e-3], "grid": false, "tickOpacity": 0, "labelAlign": "left", "labelPadding": 5, "labelFontSize": 11, "labelOffset": 3,
       "labelExpr": "'−' + format(round(-log(datum.value)/LN10), 'd')"}}}}
  ]}
 ]}
]}
]
}
